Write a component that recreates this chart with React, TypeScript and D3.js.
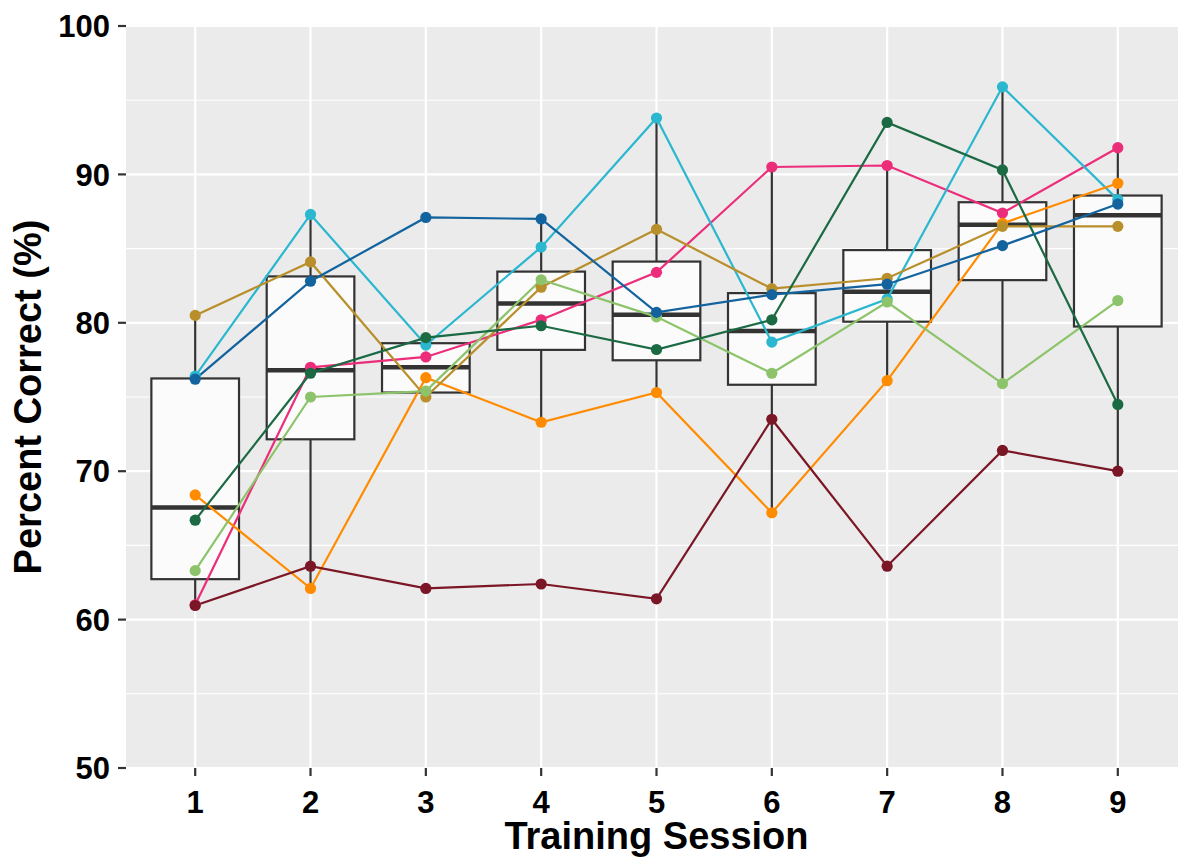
import { useEffect, useRef } from 'react';
import * as d3 from 'd3';

// sessions on the x axis
const sessions = [1, 2, 3, 4, 5, 6, 7, 8, 9];

// percent correct per participant
const pinkVals = [61.0, 77.0, 77.7, 80.2, 83.4, 90.5, 90.6, 87.4, 91.8];
const cyanVals = [76.4, 87.3, 78.5, 85.1, 93.8, 78.7, 81.6, 95.9, 88.3];
const orangeVals = [68.4, 62.1, 76.3, 73.3, 75.3, 67.2, 76.1, 86.7, 89.4];
const goldVals = [80.5, 84.1, 75.0, 82.4, 86.3, 82.3, 83.0, 86.5, 86.5];
const lightGreenVals = [63.3, 75.0, 75.4, 82.9, 80.4, 76.6, 81.4, 75.9, 81.5];
const darkGreenVals = [66.7, 76.6, 79.0, 79.8, 78.2, 80.2, 93.5, 90.3, 74.5];
const blueVals = [76.2, 82.8, 87.1, 87.0, 80.7, 81.9, 82.6, 85.2, 88.0];
const maroonVals = [60.95, 63.6, 62.1, 62.4, 61.4, 73.5, 63.6, 71.4, 70.0];

const seriesList = [
  { name: 'pink', color: '#EC2D7A', values: pinkVals },
  { name: 'cyan', color: '#2AB7CF', values: cyanVals },
  { name: 'orange', color: '#FF8C00', values: orangeVals },
  { name: 'gold', color: '#B98F2C', values: goldVals },
  { name: 'lightGreen', color: '#8DC46B', values: lightGreenVals },
  { name: 'darkGreen', color: '#1B6A43', values: darkGreenVals },
  { name: 'blue', color: '#13649E', values: blueVals },
  { name: 'maroon', color: '#7A1625', values: maroonVals },
];

const yTicks = [50, 60, 70, 80, 90, 100];
const yMinor = [55, 65, 75, 85, 95];

const FONT = '"Liberation Sans", Arial, Helvetica, sans-serif';

const App = () => {
  const svgRef = useRef<SVGSVGElement>(null);

  useEffect(() => {
    const svg = d3.select(svgRef.current);
    svg.selectAll('*').remove();

    const W = 1178;
    const H = 857;
    const panel = { left: 126, right: 1187, top: 26, bottom: 768 };

    svg.attr('width', W).attr('height', H);

    const x = d3.scaleLinear().domain([0.4, 9.6]).range([panel.left, panel.right]);
    const y = d3.scaleLinear().domain([50, 100]).range([panel.bottom, panel.top]);

    // panel background
    svg.append('rect')
      .attr('x', panel.left)
      .attr('y', panel.top)
      .attr('width', panel.right - panel.left)
      .attr('height', panel.bottom - panel.top)
      .attr('fill', '#EBEBEB');

    svg.append('clipPath').attr('id', 'panel-clip')
      .append('rect')
      .attr('x', panel.left)
      .attr('y', panel.top)
      .attr('width', panel.right - panel.left)
      .attr('height', panel.bottom - panel.top);

    const g = svg.append('g').attr('clip-path', 'url(#panel-clip)');

    // grid
    g.selectAll('.minor')
      .data(yMinor)
      .enter().append('line')
      .attr('x1', panel.left).attr('x2', panel.right)
      .attr('y1', d => y(d)).attr('y2', d => y(d))
      .attr('stroke', '#fff').attr('stroke-width', 1.1);

    g.selectAll('.major-y')
      .data(yTicks)
      .enter().append('line')
      .attr('x1', panel.left).attr('x2', panel.right)
      .attr('y1', d => y(d)).attr('y2', d => y(d))
      .attr('stroke', '#fff').attr('stroke-width', 2.2);

    g.selectAll('.major-x')
      .data(sessions)
      .enter().append('line')
      .attr('x1', d => x(d)).attr('x2', d => x(d))
      .attr('y1', panel.top).attr('y2', panel.bottom)
      .attr('stroke', '#fff').attr('stroke-width', 2.2);

    // box stats per session
    const boxes = sessions.map((s, i) => {
      const vals = seriesList.map(se => se.values[i]).sort(d3.ascending);
      const q1 = d3.quantile(vals, 0.25) as number;
      const med = d3.quantile(vals, 0.5) as number;
      const q3 = d3.quantile(vals, 0.75) as number;
      const iqr = q3 - q1;
      const lo = d3.min(vals.filter(v => v >= q1 - 1.5 * iqr)) as number;
      const hi = d3.max(vals.filter(v => v <= q3 + 1.5 * iqr)) as number;
      return { s, q1, med, q3, lo, hi };
    });

    const boxW = (x(2) - x(1)) * 0.76;
    const boxColor = '#333333';

    const bx = g.selectAll('.box')
      .data(boxes)
      .enter().append('g');

    bx.append('line')
      .attr('x1', d => x(d.s)).attr('x2', d => x(d.s))
      .attr('y1', d => y(d.hi)).attr('y2', d => y(d.q3))
      .attr('stroke', boxColor).attr('stroke-width', 2.2);

    bx.append('line')
      .attr('x1', d => x(d.s)).attr('x2', d => x(d.s))
      .attr('y1', d => y(d.q1)).attr('y2', d => y(d.lo))
      .attr('stroke', boxColor).attr('stroke-width', 2.2);

    bx.append('rect')
      .attr('x', d => x(d.s) - boxW / 2)
      .attr('width', boxW)
      .attr('y', d => y(d.q3))
      .attr('height', d => y(d.q1) - y(d.q3))
      .attr('fill', '#FBFBFB')
      .attr('stroke', boxColor)
      .attr('stroke-width', 2.2);

    bx.append('line')
      .attr('x1', d => x(d.s) - boxW / 2).attr('x2', d => x(d.s) + boxW / 2)
      .attr('y1', d => y(d.med)).attr('y2', d => y(d.med))
      .attr('stroke', boxColor).attr('stroke-width', 4.5);

    // participant lines
    const line = d3.line<number>()
      .x((d, i) => x(sessions[i]))
      .y(d => y(d));

    g.selectAll('.series-line')
      .data(seriesList)
      .enter().append('path')
      .attr('d', d => line(d.values))
      .attr('fill', 'none')
      .attr('stroke', d => d.color)
      .attr('stroke-width', 2.2);

    // participant points
    seriesList.forEach(se => {
      g.selectAll(null)
        .data(se.values)
        .enter().append('circle')
        .attr('cx', (d, i) => x(sessions[i]))
        .attr('cy', d => y(d))
        .attr('r', 5.6)
        .attr('fill', se.color);
    });

    // axes ticks
    const axisColor = '#333333';
    svg.selectAll('.ytick')
      .data(yTicks)
      .enter().append('line')
      .attr('x1', panel.left - 8).attr('x2', panel.left)
      .attr('y1', d => y(d)).attr('y2', d => y(d))
      .attr('stroke', axisColor).attr('stroke-width', 2.2);

    svg.selectAll('.ylab')
      .data(yTicks)
      .enter().append('text')
      .attr('x', panel.left - 16)
      .attr('y', d => y(d))
      .attr('dy', '0.36em')
      .attr('text-anchor', 'end')
      .style('font-family', FONT)
      .style('font-weight', 'bold')
      .style('font-size', '31px')
      .style('fill', '#000')
      .text(d => d);

    svg.selectAll('.xtick')
      .data(sessions)
      .enter().append('line')
      .attr('x1', d => x(d)).attr('x2', d => x(d))
      .attr('y1', panel.bottom).attr('y2', panel.bottom + 8)
      .attr('stroke', axisColor).attr('stroke-width', 2.2);

    svg.selectAll('.xlab')
      .data(sessions)
      .enter().append('text')
      .attr('x', d => x(d))
      .attr('y', 813)
      .attr('text-anchor', 'middle')
      .style('font-family', FONT)
      .style('font-weight', 'bold')
      .style('font-size', '31px')
      .style('fill', '#000')
      .text(d => d);

    // axis titles
    svg.append('text')
      .attr('x', (panel.left + panel.right) / 2)
      .attr('y', 849)
      .attr('text-anchor', 'middle')
      .style('font-family', FONT)
      .style('font-weight', 'bold')
      .style('font-size', '38px')
      .style('fill', '#000')
      .text('Training Session');

    svg.append('text')
      .attr('transform', `translate(41, ${(panel.top + panel.bottom) / 2}) rotate(-90)`)
      .attr('text-anchor', 'middle')
      .style('font-family', FONT)
      .style('font-weight', 'bold')
      .style('font-size', '38px')
      .style('fill', '#000')
      .text('Percent Correct (%)');
  }, []);

  return (
    <div style={{ position: 'absolute', left: 0, top: 0 }}>
      <svg ref={svgRef} style={{ display: 'block' }}></svg>
    </div>
  );
};

export default App;
